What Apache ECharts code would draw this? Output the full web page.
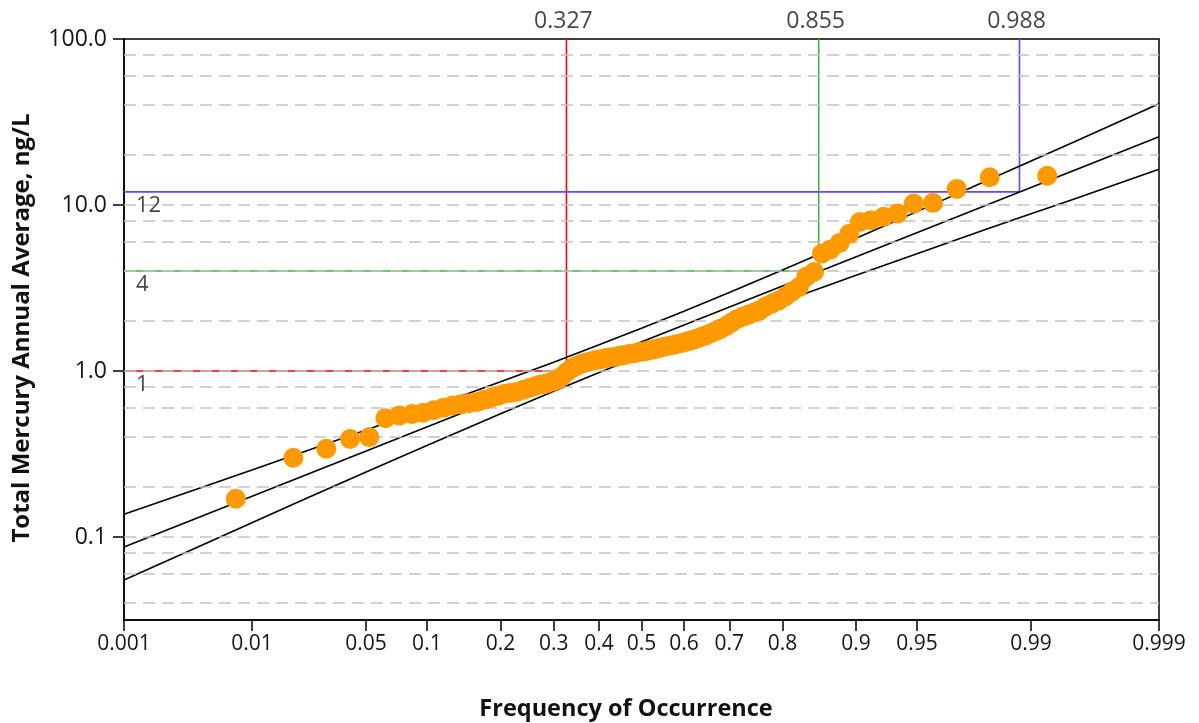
<!DOCTYPE html>
<html>
<head>
<meta charset="utf-8">
<script src="https://cdn.jsdelivr.net/npm/echarts@6/dist/echarts.min.js"></script>
<style>
html,body{margin:0;padding:0;background:#fff;}
#chart{width:1199px;height:723px;}
</style>
</head>
<body>
<div id="chart"></div>
<script>
// ---- data ----
const freqTicks = [0.001, 0.01, 0.05, 0.1, 0.2, 0.3, 0.4, 0.5, 0.6, 0.7, 0.8, 0.9, 0.95, 0.99, 0.999];
const yTicks = [0.1, 1, 10, 100];
const gridValues = [0.04, 0.06, 0.08, 0.1, 0.2, 0.4, 0.6, 0.8, 1, 2, 4, 6, 8, 10, 20, 40, 60, 80];

const pointFreq = [
  0.0077, 0.0188, 0.0299, 0.0409, 0.0520, 0.0631, 0.0741, 0.0852, 0.0962, 0.1073,
  0.1184, 0.1294, 0.1405, 0.1515, 0.1626, 0.1737, 0.1847, 0.1958, 0.2069, 0.2179,
  0.2290, 0.2400, 0.2511, 0.2622, 0.2732, 0.2843, 0.2954, 0.3064, 0.3175, 0.3285,
  0.3396, 0.3507, 0.3617, 0.3728, 0.3838, 0.3949, 0.4060, 0.4170, 0.4281, 0.4392,
  0.4502, 0.4613, 0.4723, 0.4834, 0.4945, 0.5055, 0.5166, 0.5277, 0.5387, 0.5498,
  0.5608, 0.5719, 0.5830, 0.5940, 0.6051, 0.6162, 0.6272, 0.6383, 0.6493, 0.6604,
  0.6715, 0.6825, 0.6936, 0.7046, 0.7157, 0.7268, 0.7378, 0.7489, 0.7600, 0.7710,
  0.7821, 0.7931, 0.8042, 0.8153, 0.8263, 0.8374, 0.8485, 0.8595, 0.8706, 0.8816,
  0.8927, 0.9038, 0.9148, 0.9259, 0.9369, 0.9480, 0.9591, 0.9701, 0.9812, 0.9923
];
const pointValue = [
  0.17, 0.30, 0.34, 0.39, 0.40, 0.52, 0.54, 0.55, 0.56, 0.58,
  0.60, 0.62, 0.63, 0.64, 0.65, 0.67, 0.69, 0.71, 0.73, 0.74,
  0.75, 0.77, 0.79, 0.81, 0.83, 0.84, 0.86, 0.88, 0.93, 0.99,
  1.04, 1.08, 1.11, 1.13, 1.15, 1.17, 1.18, 1.20, 1.21, 1.22,
  1.24, 1.25, 1.27, 1.28, 1.30, 1.31, 1.33, 1.35, 1.37, 1.39,
  1.41, 1.43, 1.45, 1.47, 1.50, 1.53, 1.56, 1.60, 1.64, 1.69,
  1.74, 1.80, 1.87, 1.96, 2.05, 2.12, 2.18, 2.25, 2.32, 2.45,
  2.55, 2.65, 2.80, 3.00, 3.20, 3.70, 3.95, 5.10, 5.40, 5.90,
  6.70, 7.90, 8.10, 8.50, 8.90, 10.2, 10.3, 12.5, 14.7, 15.0
];

const fitFreq = [0.001, 0.999];
const fitValue = [0.087, 25.8];

const boundFreq  = [0.001, 0.005, 0.01, 0.02, 0.05, 0.1, 0.2, 0.3, 0.4, 0.5, 0.6, 0.7, 0.8, 0.9, 0.95, 0.98, 0.99, 0.995, 0.999];
const upperValue = [0.137, 0.207, 0.253, 0.316, 0.441, 0.595, 0.861, 1.13, 1.44, 1.81, 2.29, 2.97, 4.06, 6.30, 9.12, 13.9, 18.4, 23.8, 40.7];
const lowerValue = [0.055, 0.094, 0.122, 0.162, 0.246, 0.356, 0.553, 0.755, 0.978, 1.24, 1.56, 1.98, 2.61, 3.77, 5.09, 7.11, 8.86, 10.8, 16.4];

const refFreq  = [0.327, 0.855, 0.988];
const refValue = [1, 4, 12];
const refColors = ['#ff0000', '#3cb43c', '#7040ff'];

// ---- normal probability scale transform ----
function probit(p) {
  const a = [-3.969683028665376e+01, 2.209460984245205e+02, -2.759285104469687e+02, 1.383577518672690e+02, -3.066479806614716e+01, 2.506628277459239e+00];
  const b = [-5.447609879822406e+01, 1.615858368580409e+02, -1.556989798598866e+02, 6.680131188771972e+01, -1.328068155288572e+01];
  const c = [-7.784894002430293e-03, -3.223964580411365e-01, -2.400758277161838e+00, -2.549732539343734e+00, 4.374664141464968e+00, 2.938163982698783e+00];
  const d = [7.784695709041462e-03, 3.224671290700398e-01, 2.445134137142996e+00, 3.754408661907416e+00];
  const plow = 0.02425, phigh = 1 - plow;
  let q, r;
  if (p < plow) {
    q = Math.sqrt(-2 * Math.log(p));
    return (((((c[0]*q+c[1])*q+c[2])*q+c[3])*q+c[4])*q+c[5]) / ((((d[0]*q+d[1])*q+d[2])*q+d[3])*q+1);
  } else if (p <= phigh) {
    q = p - 0.5; r = q*q;
    return (((((a[0]*r+a[1])*r+a[2])*r+a[3])*r+a[4])*r+a[5])*q / (((((b[0]*r+b[1])*r+b[2])*r+b[3])*r+b[4])*r+1);
  } else {
    q = Math.sqrt(-2 * Math.log(1 - p));
    return -(((((c[0]*q+c[1])*q+c[2])*q+c[3])*q+c[4])*q+c[5]) / ((((d[0]*q+d[1])*q+d[2])*q+d[3])*q+1);
  }
}

const XMIN = probit(0.001), XMAX = probit(0.999);
const YMIN = Math.pow(10, -1.5), YMAX = 100;
const tickZ = freqTicks.map(probit);
const FONT = '"Open Sans", "Noto Sans", sans-serif';
const TXT = '#151515';

const series = [];

// dashed horizontal grid lines
series.push({
  type: 'line', data: [], silent: true, symbol: 'none',
  markLine: {
    silent: true, symbol: ['none', 'none'], animation: false,
    label: { show: false },
    lineStyle: { color: '#c2c2c2', type: [12, 7], width: 1.5 },
    data: gridValues.map(v => ({ yAxis: v }))
  },
  z: 1
});

// reference lines
refFreq.forEach((f, k) => {
  const zx = probit(f);
  series.push({
    type: 'line', symbol: 'none', silent: true,
    data: [[XMIN, refValue[k]], [zx, refValue[k]], [zx, YMAX]],
    lineStyle: { color: refColors[k], width: 1.6 }, z: 2
  });
  series.push({
    type: 'scatter', symbolSize: 0, silent: true,
    data: [[XMIN, refValue[k]]],
    label: { show: true, position: 'right', distance: 0, offset: [12, 14],
      formatter: String(refValue[k]), fontSize: 22, color: TXT, fontFamily: FONT },
    z: 6
  });
  series.push({
    type: 'scatter', symbolSize: 0, silent: true,
    data: [[zx, YMAX]],
    label: { show: true, position: 'top', distance: 6, offset: [-3, 0],
      formatter: f.toFixed(3), fontSize: 23, color: TXT, fontFamily: FONT },
    z: 6
  });
});

// fit line and bounds
const blackLine = { color: '#000', width: 1.6 };
series.push({ type: 'line', symbol: 'none', silent: true, z: 3, lineStyle: blackLine,
  data: boundFreq.map((p, i) => [probit(p), upperValue[i]]) });
series.push({ type: 'line', symbol: 'none', silent: true, z: 3, lineStyle: blackLine,
  data: fitFreq.map((p, i) => [probit(p), fitValue[i]]) });
series.push({ type: 'line', symbol: 'none', silent: true, z: 3, lineStyle: blackLine,
  data: boundFreq.map((p, i) => [probit(p), lowerValue[i]]) });

// observations
series.push({
  type: 'scatter', symbol: 'circle', symbolSize: 20, z: 5,
  itemStyle: { color: '#ff9900', opacity: 1 },
  data: pointFreq.map((p, i) => [probit(p), pointValue[i]])
});

const chart = echarts.init(document.getElementById('chart'), null, { renderer: 'canvas' });
chart.setOption({
  animation: false,
  backgroundColor: '#ffffff',
  grid: { left: 124, right: 40, top: 39, bottom: 103, show: true, borderColor: '#000', borderWidth: 1.5, backgroundColor: 'transparent' },
  xAxis: {
    type: 'value', min: XMIN, max: XMAX,
    splitLine: { show: false },
    axisLine: { show: true, onZero: false, lineStyle: { color: '#000', width: 1.5 } },
    axisTick: { show: true, length: 11, customValues: tickZ, lineStyle: { color: '#000', width: 1.5 } },
    axisLabel: {
      customValues: tickZ, margin: 14, fontSize: 21, color: TXT, fontFamily: FONT,
      formatter: function (v) {
        for (let i = 0; i < tickZ.length; i++) if (Math.abs(tickZ[i] - v) < 1e-6) return String(freqTicks[i]);
        return '';
      }
    }
  },
  yAxis: {
    type: 'log', logBase: 10, min: YMIN, max: YMAX,
    splitLine: { show: false },
    axisLine: { show: true, onZero: false, lineStyle: { color: '#000', width: 1.5 } },
    axisTick: { show: true, length: 11, customValues: yTicks, lineStyle: { color: '#000', width: 1.5 } },
    axisLabel: {
      customValues: yTicks, margin: 17, fontSize: 23, color: TXT, fontFamily: FONT,
      formatter: function (v) { return v >= 1 ? Number(v).toFixed(1) : String(v); }
    }
  },
  graphic: [
    { type: 'text', x: 626, y: 709, silent: true,
      style: { text: 'Frequency of Occurrence', fontSize: 23.5, fontWeight: 'bold', fontFamily: FONT,
        fill: '#111', align: 'center', verticalAlign: 'middle' } },
    { type: 'text', x: 22, y: 328, rotation: Math.PI / 2, silent: true,
      style: { text: 'Total Mercury Annual Average, ng/L', fontSize: 24, fontWeight: 'bold', fontFamily: FONT,
        fill: '#111', align: 'center', verticalAlign: 'middle' } }
  ],
  series: series
});
</script>
</body>
</html>
